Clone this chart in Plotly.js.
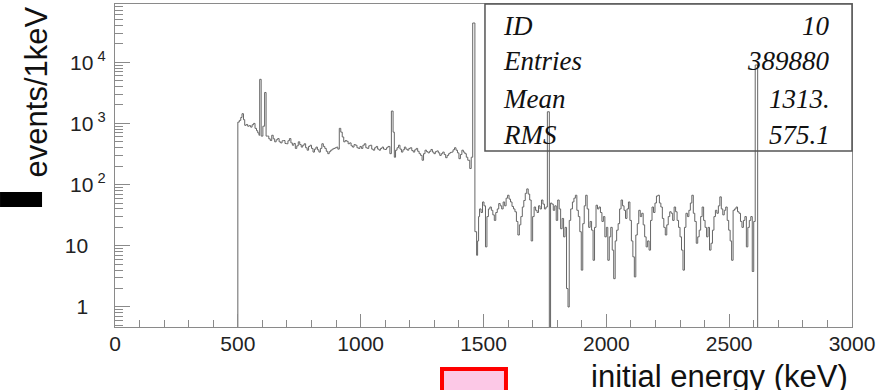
<!DOCTYPE html>
<html>
<head>
<meta charset="utf-8">
<script src="https://cdn.plot.ly/plotly-3.0.1.min.js"></script>
<style>html,body{margin:0;padding:0;background:#fff;}#chart{width:888px;height:390px;}</style>
</head>
<body>
<div id="chart"></div>
<script>
// Bin left edges (keV)
const energy = [0,
500,506,512,517,523,528,534,540,546,552,558,564,570,576,581,586,589,595,602,609,615,
620,626,632,638,644,650,656,662,668,674,680,686,692,698,704,710,716,722,728,734,740,746,752,758,764,770,776,782,788,794,800,806,812,818,824,830,836,842,848,854,860,866,872,878,884,890,896,902,907,
913,919,925,931,937,943,949,955,961,967,973,979,985,991,997,1003,1009,1015,1021,1027,1033,1039,1045,1051,1057,1063,1069,1075,1081,1087,1093,1099,1105,1111,1119,
1125,1132,1137,1142,1148,1154,1160,1166,1172,1178,1184,1190,1196,1202,1208,1214,1220,1226,1232,1238,1244,1250,1256,1262,1268,1274,1280,1286,1292,1298,1304,1310,1316,1322,1328,1334,1340,1346,1352,1358,1364,1370,1376,1382,1388,1394,1400,1406,1412,1418,1424,1430,1436,1444,1450,1456,
1465,1472,1476,1480,1484,1490,1496,1502,1508,1514,1520,1526,1532,1538,1544,1550,1556,1562,1568,1574,1580,1586,1592,1598,1604,1610,1616,1622,1628,1634,1640,1646,1652,1658,1664,1670,1676,1682,1688,1694,1700,1706,1712,1718,1724,1730,1736,1742,1748,1754,1760,
1768,1773,1778,1784,1790,1796,1802,1808,1814,1820,1826,1832,1838,1844,1849,1855,1862,1868,1874,1880,1886,1892,1898,1904,1910,1916,1922,1928,1934,1940,1946,1952,1958,1964,1970,1976,1982,1988,1994,2000,2006,2012,2018,2024,2030,2036,2042,2048,2054,2060,2066,2072,2078,2084,2090,2096,2102,2108,2114,2120,2126,2132,2138,2144,2150,2156,2162,2168,2174,2180,2186,2192,2198,2204,2210,2216,2222,2228,2234,2240,2246,2252,2258,2264,2270,2276,2282,2288,2294,2300,2306,2312,2318,2324,2330,2336,2342,2348,2354,2360,2366,2372,2378,2384,2390,2396,2402,2408,2414,2420,2426,2432,2438,2444,2450,2456,2462,2468,2474,2480,2486,2492,2498,2504,2510,2516,2522,2528,2534,2540,2546,2552,2558,2564,2570,2576,2582,2588,2594,2600,2606,
2616,2623,3000];

// Counts per bin (events/1keV)
const counts = [0,
1050,1120,1250,1440,1150,930,960,900,920,870,950,1000,830,760,700,640,5250,620,900,3200,620,
620,560,525,640,560,500,540,565,500,480,520,525,470,465,520,565,480,440,470,390,430,500,450,410,440,465,400,365,420,440,390,340,380,410,370,340,390,465,420,390,350,320,345,365,380,390,400,410,380,
830,720,600,500,525,510,465,480,430,410,450,440,400,390,420,390,440,465,400,390,430,440,380,365,400,420,380,365,390,410,380,375,400,420,320,
1590,720,280,365,400,440,380,340,370,410,380,365,390,400,360,340,370,390,350,320,300,250,320,365,345,330,350,375,340,320,345,355,330,300,320,340,310,275,300,320,335,340,370,400,365,330,265,310,365,340,320,280,250,183,280,
43700,17,7,12,30,40,35,52,45,9.6,30,40,43,38,32,26,35,40,49,45,40,52,45,60,67,58,52,44,40,36,25,15,22,30,43,55,72,85,70,56,12,30,43,38,35,45,40,56,48,40,43,
1550,0,50,48,38,45,26,56,40,19,28,14,20,2,1,26,40,52,60,67,38,30,17,4,23,45,67,40,20,25,18,5.8,20,46,40,43,35,25,30,14,20,5.8,14,20,8.5,2.9,12,18,23,40,56,45,38,28,40,52,26,12,6.6,3.1,15,23,38,30,34,22,14,9.6,12,8.5,26,43,35,50,65,67,50,43,28,20,15,22,30,36,34,26,43,36,26,20,14,8.5,4,20,34,30,38,50,67,34,25,11,14,18,30,43,26,20,14,20,8.5,11,18,30,38,34,45,63,40,32,38,43,26,18,12,5.8,38,40,43,36,34,25,20,26,30,9.6,20,26,30,3.8,25,
9000,0,0];

const xTickVals = [0,500,1000,1500,2000,2500,3000];
const yTickVals = [1,10,100,1000,10000];
const yTickText = ['1\u00a0\u00a0\u00a0','10\u00a0\u00a0\u00a0','10<sup> 2</sup>','10<sup> 3</sup>','10<sup> 4</sup>'];
const statLabels = ['ID','Entries','Mean','RMS'];
const statValues = ['10','389880','1313.','575.1'];

// empty bins are drawn at the bottom of the log axis, like ROOT does
const yPlot = counts.map(v => v > 0 ? v : 0.1);

const xMinor = [];
for (let v = 100; v < 3000; v += 100) if (v % 500) xMinor.push(v);
const yMinor = [];
[0.1,1,10,100,1000,10000].forEach(d => { for (let k = 2; k <= 9; k++) yMinor.push(d*k); });

const axisGray = '#8a8a8a';
const tickFont = {family: 'Liberation Sans, Arial, sans-serif', size: 21, color: '#222'};
const statFont = {family: 'Liberation Serif, Times New Roman, serif', size: 27, color: '#111', style: 'italic'};

const statY = [0.932, 0.8235, 0.7074, 0.5944];
const annotations = [];
statLabels.forEach((t, i) => {
  annotations.push({xref:'paper', yref:'paper', x:0.5237, y:statY[i], xanchor:'left', yanchor:'middle', text:t, showarrow:false, font:statFont});
  annotations.push({xref:'paper', yref:'paper', x:0.9729, y:statY[i], xanchor:'right', yanchor:'middle', text:statValues[i], showarrow:false, font:statFont});
});
annotations.push({xref:'paper', yref:'paper', x:-0.1052, y:0.7276, xanchor:'center', yanchor:'middle', textangle:-90,
  text:'events/1keV', showarrow:false, font:{family:'Liberation Sans, Arial, sans-serif', size:31, color:'#111'}});
annotations.push({xref:'paper', yref:'paper', x:0.9973, y:-0.152, xanchor:'right', yanchor:'middle',
  text:'initial energy (keV)', showarrow:false, font:{family:'Liberation Sans, Arial, sans-serif', size:31, color:'#111'}});

const layout = {
  width: 888, height: 390,
  margin: {l:115, r:36, t:4, b:63, pad:0},
  paper_bgcolor: '#fff', plot_bgcolor: '#fff',
  showlegend: false,
  xaxis: {
    range: [0, 3000], tickmode:'array', tickvals: xTickVals,
    ticks: 'inside', ticklen: 13, tickwidth: 1, tickcolor: axisGray,
    showline: true, linecolor: axisGray, linewidth: 1.2, mirror: true,
    showgrid: false, zeroline: false, tickfont: tickFont, ticklabelstandoff: -2,
    minor: {tickmode:'array', tickvals: xMinor, ticks:'inside', ticklen: 7, tickwidth: 1, tickcolor: axisGray, showgrid:false}
  },
  yaxis: {
    type: 'log', range: [-0.327, 4.951], tickmode:'array', tickvals: yTickVals, ticktext: yTickText,
    ticks: 'inside', ticklen: 15, tickwidth: 1, tickcolor: axisGray,
    showline: true, linecolor: axisGray, linewidth: 1.2, mirror: true,
    showgrid: false, zeroline: false, tickfont: tickFont, ticklabelstandoff: 4,
    minor: {tickmode:'array', tickvals: yMinor, ticks:'inside', ticklen: 8, tickwidth: 1, tickcolor: axisGray, showgrid:false}
  },
  shapes: [
    {type:'rect', xref:'paper', yref:'paper', x0:0.502, x1:1.0, y0:0.5449, y1:1.0, line:{color:'#555', width:1.5}, fillcolor:'rgba(0,0,0,0)'},
    {type:'rect', xref:'paper', yref:'paper', x0:-0.156, x1:-0.099, y0:0.3715, y1:0.418, line:{width:0}, fillcolor:'#000'},
    {type:'rect', xref:'paper', yref:'paper', x0:0.4437, x1:0.5305, y0:-0.217, y1:-0.130, line:{color:'#ff0000', width:4}, fillcolor:'#fcc8e6'}
  ],
  annotations: annotations
};

const trace = {
  type: 'scatter', mode: 'lines', x: energy, y: yPlot,
  line: {shape: 'hv', color: '#666', width: 1}, hoverinfo: 'skip', cliponaxis: true
};

Plotly.newPlot('chart', [trace], layout, {staticPlot: true, displayModeBar: false});
</script>
</body>
</html>
